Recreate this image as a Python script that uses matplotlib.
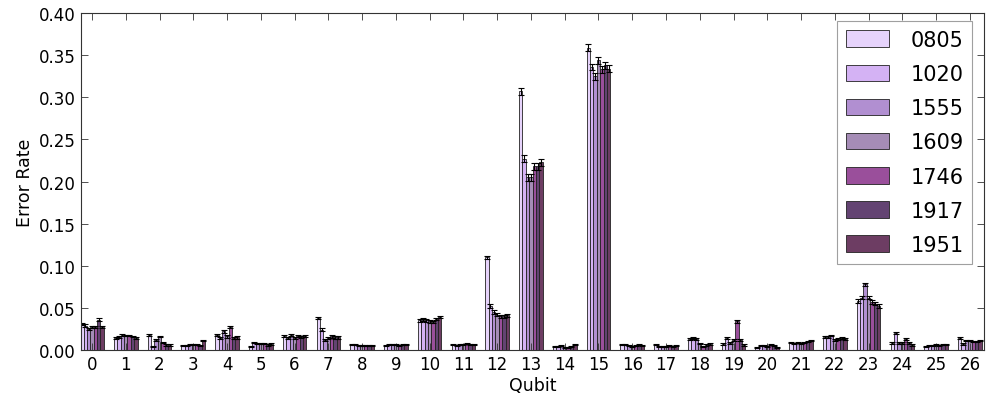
import numpy as np
import matplotlib
matplotlib.use('Agg')
from matplotlib import pyplot as plt

qubits = [str(q) for q in range(27)]
runs = ['0805', '1020', '1555', '1609', '1746', '1917', '1951']
colors = ['#e6d3fb', '#d4b2f4', '#b18fd1', '#a58cb6', '#9a4f9b', '#634372', '#6d3d63']

# error rate per run, one entry per qubit 0..26
r0805 = [0.031, 0.014, 0.018, 0.005, 0.018, 0.004, 0.016, 0.038, 0.006, 0.005, 0.035, 0.006, 0.110, 0.307,
         0.004, 0.359, 0.007, 0.006, 0.013, 0.007, 0.003, 0.009, 0.015, 0.058, 0.008, 0.004, 0.014]
r1020 = [0.029, 0.015, 0.004, 0.005, 0.014, 0.009, 0.014, 0.024, 0.006, 0.006, 0.036, 0.005, 0.052, 0.227,
         0.004, 0.336, 0.007, 0.004, 0.014, 0.014, 0.005, 0.008, 0.015, 0.062, 0.020, 0.005, 0.007]
r1555 = [0.025, 0.018, 0.012, 0.006, 0.022, 0.008, 0.018, 0.012, 0.005, 0.006, 0.035, 0.006, 0.045, 0.205,
         0.005, 0.325, 0.005, 0.004, 0.013, 0.008, 0.005, 0.009, 0.017, 0.078, 0.008, 0.005, 0.011]
r1609 = [0.027, 0.017, 0.016, 0.006, 0.016, 0.008, 0.014, 0.014, 0.005, 0.007, 0.034, 0.007, 0.042, 0.205,
         0.003, 0.344, 0.004, 0.004, 0.008, 0.012, 0.004, 0.008, 0.012, 0.062, 0.008, 0.006, 0.011]
r1746 = [0.027, 0.017, 0.009, 0.006, 0.027, 0.008, 0.016, 0.016, 0.005, 0.005, 0.033, 0.008, 0.040, 0.218,
         0.003, 0.333, 0.005, 0.005, 0.004, 0.034, 0.006, 0.009, 0.013, 0.057, 0.013, 0.005, 0.010]
r1917 = [0.036, 0.016, 0.006, 0.005, 0.014, 0.006, 0.015, 0.015, 0.005, 0.006, 0.037, 0.007, 0.040, 0.218,
         0.004, 0.338, 0.006, 0.004, 0.006, 0.012, 0.005, 0.010, 0.014, 0.055, 0.008, 0.006, 0.010]
r1951 = [0.027, 0.014, 0.006, 0.011, 0.015, 0.007, 0.017, 0.015, 0.005, 0.006, 0.039, 0.006, 0.041, 0.223,
         0.006, 0.334, 0.005, 0.005, 0.007, 0.006, 0.003, 0.011, 0.013, 0.052, 0.006, 0.006, 0.011]

# error bar half widths, one per qubit (same for every run)
err = [0.0015, 0.001, 0.001, 0.0005, 0.0015, 0.0008, 0.0012, 0.0015, 0.0006, 0.0006, 0.0015, 0.0006, 0.002, 0.004,
       0.0005, 0.004, 0.0006, 0.0005, 0.0008, 0.0015, 0.0005, 0.0008, 0.001, 0.002, 0.001, 0.0005, 0.0008]

series = [r0805, r1020, r1555, r1609, r1746, r1917, r1951]

fig = plt.figure(figsize=(9.86, 4.02), dpi=100)
ax = fig.add_axes([0.082, 0.127, 0.916, 0.838])

x = np.arange(len(qubits))
w = 0.1
for i, (name, vals) in enumerate(zip(runs, series)):
    ax.bar(x - 0.35 + i * w, vals, w, align='edge', color=colors[i], edgecolor='#222222',
           linewidth=0.6, label=name)
    ax.errorbar(x - 0.35 + (i + 0.5) * w, vals, yerr=err, fmt='none', ecolor='black',
                elinewidth=0.8, capsize=2.5, capthick=0.8)

ax.set_xlim(-0.33, 26.42)
ax.set_ylim(0, 0.40)
ax.set_xticks(x)
ax.set_xticklabels(qubits)
ax.set_yticks(np.arange(0, 0.41, 0.05))
ax.set_yticklabels(['%.2f' % v for v in np.arange(0, 0.41, 0.05)])
ax.tick_params(direction='in', top=True, right=True, labelsize=12, length=5, width=0.6, colors='#333333',
               labelcolor='black')
for s in ax.spines.values():
    s.set_color('#333333')
    s.set_linewidth(0.8)
ax.set_xlabel('Qubit', fontsize=12.5, labelpad=2)
ax.set_ylabel('Error Rate', fontsize=12.5)

leg = ax.legend(loc='upper right', fontsize=15, fancybox=False, edgecolor='#888888', handlelength=2.1,
                handleheight=0.85, borderpad=0.42, labelspacing=0.68, handletextpad=1.0,
                borderaxespad=0, bbox_to_anchor=(0.987, 0.976))
leg.get_frame().set_linewidth(0.8)

fig.savefig('out.png', dpi=100)
